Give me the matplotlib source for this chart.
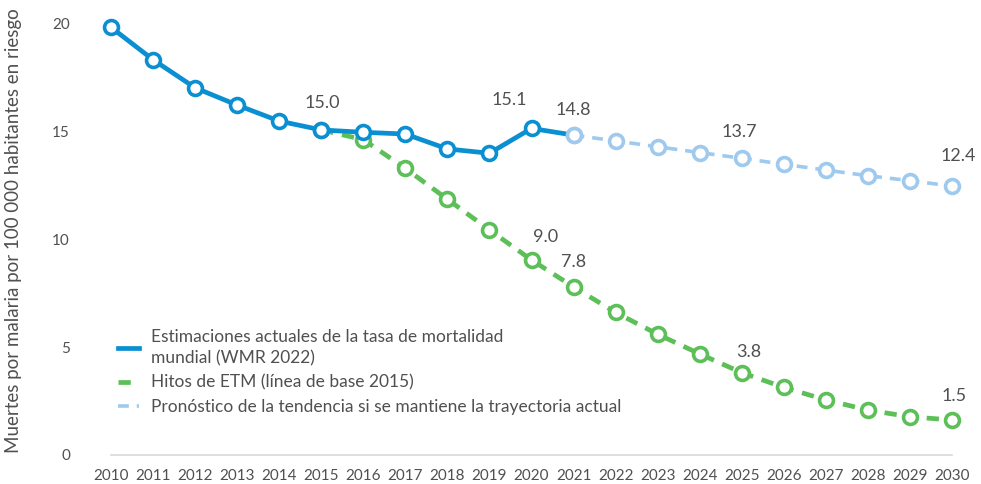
import numpy as np
import matplotlib
matplotlib.use("Agg")
import matplotlib.pyplot as plt

plt.rcParams['font.family'] = ['Lato', 'DejaVu Sans']

# data
yearsActual = [2010, 2011, 2012, 2013, 2014, 2015, 2016, 2017, 2018, 2019, 2020, 2021]
valsActual = [19.8, 18.3, 17.0, 16.2, 15.46, 15.05, 14.94, 14.86, 14.17, 13.97, 15.12, 14.81]

yearsGoal = list(range(2015, 2031))
valsGoal = [15.05, 14.6, 13.27, 11.84, 10.42, 9.03, 7.78, 6.6, 5.59, 4.68, 3.81,
            3.13, 2.55, 2.08, 1.77, 1.62]

yearsTrend = list(range(2021, 2031))
valsTrend = [14.81, 14.54, 14.27, 14.0, 13.74, 13.46, 13.19, 12.93, 12.7, 12.45]

labelsActual = {2015: "15.0", 2020: "15.1", 2021: "14.8"}
labelsGoal = {2020: "9.0", 2021: "7.8", 2025: "3.8", 2030: "1.5"}
labelsTrend = {2025: "13.7", 2030: "12.4"}

legendNames = ["Estimaciones actuales de la tasa de mortalidad\nmundial (WMR 2022)",
               "Hitos de ETM (línea de base 2015)",
               "Pronóstico de la tendencia si se mantiene la trayectoria actual"]

blue = '#0a8fd2'
green = '#5cbf58'
lightBlue = '#9fcaee'
txt = '#505050'

W, H = 981, 484
fig = plt.figure(figsize=(W/100, H/100), dpi=100)
ax = fig.add_axes([95/W, 1-455/H, (975-95)/W, (455-15)/H])

mk = dict(marker='o', markersize=10, markerfacecolor='white', markeredgewidth=2.6)

lT, = ax.plot(yearsTrend, valsTrend, color=lightBlue, lw=2.6, dashes=(3, 2.2),
              markeredgecolor=lightBlue, zorder=3, **mk)
lG, = ax.plot(yearsGoal, valsGoal, color=green, lw=3.4, dashes=(2.6, 1.9),
              markeredgecolor=green, zorder=4, **mk)
lA, = ax.plot(yearsActual[:-1], valsActual[:-1], color=blue, lw=3.4,
              markeredgecolor=blue, zorder=5, **mk)
# the 2021 point belongs to the trend style, joined by a solid segment
ax.plot(yearsActual[-2:], valsActual[-2:], color=blue, lw=3.4, zorder=2)
ax.plot(yearsActual[-1:], valsActual[-1:], ls='none', markeredgecolor=lightBlue, zorder=6, **mk)

def putLabels(years, vals, labels, offsets):
    for yr, s in labels.items():
        v = vals[years.index(yr)]
        dx, dy = offsets.get(yr, (0, 27))
        ax.annotate(s, (yr, v), xytext=(dx, dy), textcoords='offset pixels',
                    ha='center', va='center', fontsize=13, color=txt)

putLabels(yearsActual, valsActual, labelsActual, {2015: (1, 27), 2020: (-22, 28), 2021: (0, 25)})
putLabels(yearsGoal, valsGoal, labelsGoal, {2020: (14, 23), 2021: (0, 25), 2025: (7, 21), 2030: (2, 24)})
putLabels(yearsTrend, valsTrend, labelsTrend, {2025: (-2, 26), 2030: (6, 30)})

# baseline
ax.plot([2010, 2030], [0, 0], color='#d9d9d9', lw=1.2, zorder=1, clip_on=False)

ax.set_xlim(2010 - 16/42.05, 2030 + 23/42.05)
ax.set_ylim(0, 440/21.6)
ax.set_xticks(range(2010, 2031))
ax.set_yticks([0, 5, 10, 15, 20])
for s in ax.spines.values():
    s.set_visible(False)
ax.tick_params(axis='both', length=0, labelsize=11, labelcolor=txt)
ax.tick_params(axis='x', pad=10)
ax.tick_params(axis='y', pad=18)
ax.set_ylabel("Muertes por malaria por 100 000 habitantes en riesgo", fontsize=13.5,
              color=txt)
ax.yaxis.set_label_coords(-73/880, 0.51)

leg = ax.legend([lA, lG, lT], legendNames, loc='upper left',
                bbox_to_anchor=((102-95)/880, (455-313)/440), frameon=False,
                fontsize=12.5, labelcolor=txt, handlelength=1.25, handletextpad=0.7,
                labelspacing=0.5)
for h in leg.legend_handles:
    h.set_marker('')
for t in leg.get_texts():
    t.set_linespacing(1.4)

fig.savefig('out.png', dpi=100)
